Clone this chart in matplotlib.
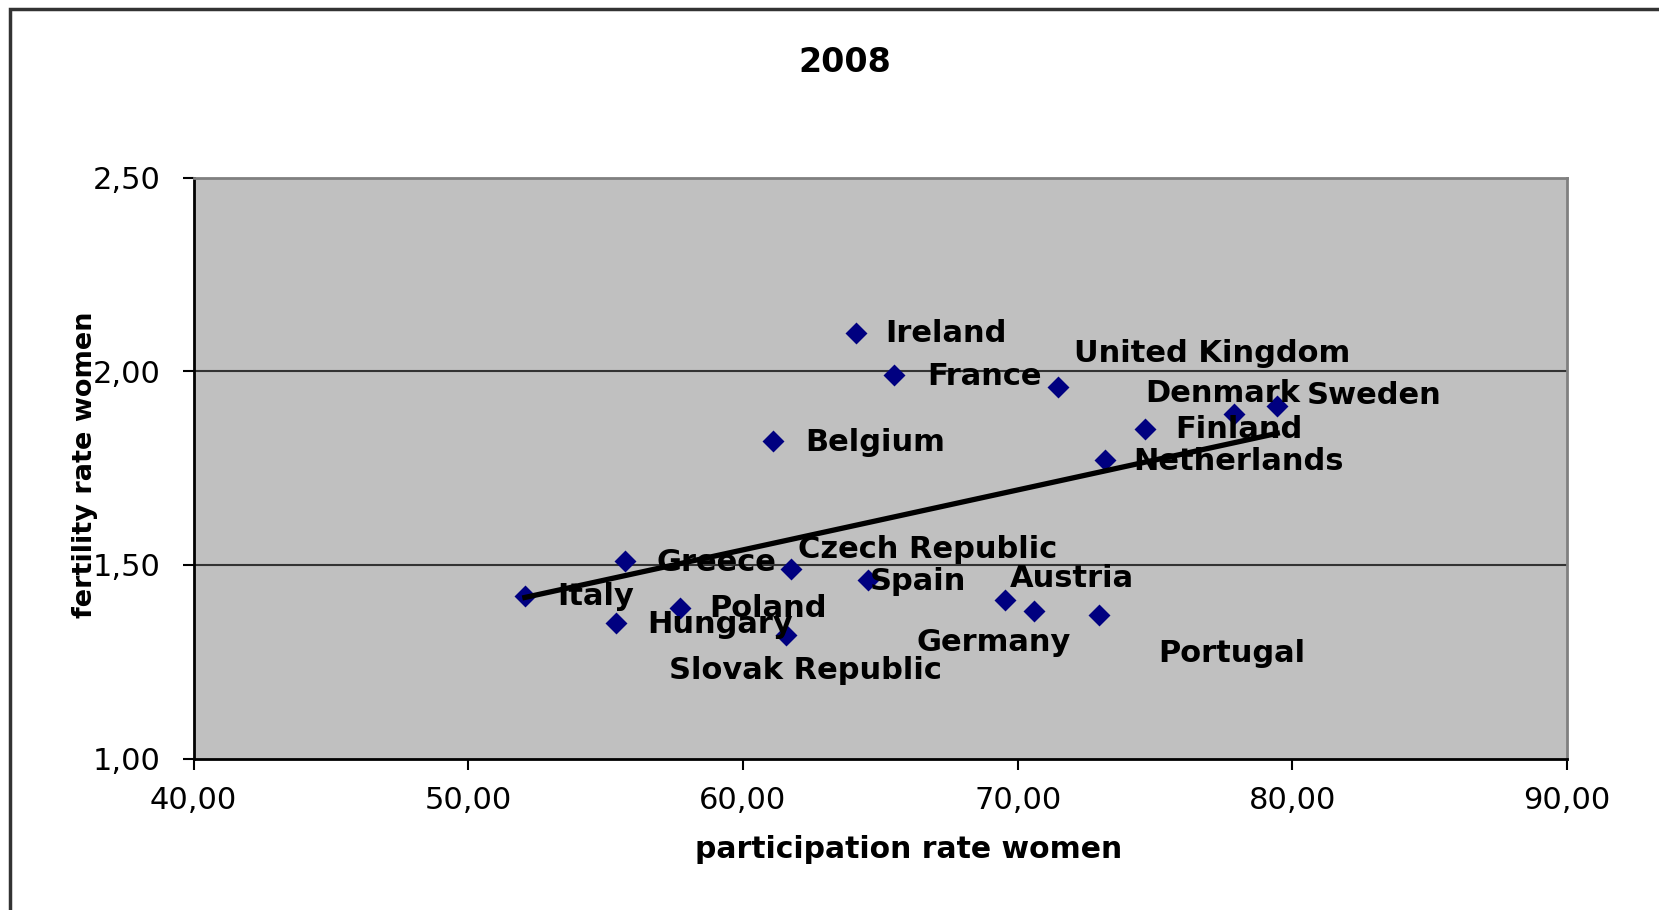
import numpy as np
import matplotlib.pyplot as plt
from matplotlib.patches import Rectangle

# ==========================
# DATA
# ==========================
countries = ["Ireland", "France", "United Kingdom", "Denmark", "Sweden", "Finland",
             "Netherlands", "Belgium", "Greece", "Czech Republic", "Spain", "Austria",
             "Germany", "Portugal", "Italy", "Poland", "Hungary", "Slovak Republic"]
participation = [64.11, 65.50, 71.47, 77.87, 79.45, 74.63, 73.17, 61.11, 55.72,
                 61.73, 64.54, 69.55, 70.59, 72.97, 52.06, 57.72, 55.37, 61.57]
fertility = [2.10, 1.99, 1.96, 1.89, 1.91, 1.85, 1.77, 1.82, 1.51,
             1.49, 1.46, 1.41, 1.38, 1.37, 1.42, 1.39, 1.35, 1.32]

x_ticks = [40, 50, 60, 70, 80, 90]
y_ticks = [1.0, 1.5, 2.0, 2.5]

# label offsets in pixels (dx, dy) from each marker, as placed in the original
label_offsets = {
    "Ireland": (29, -1), "France": (33, -1), "United Kingdom": (16, 33),
    "Denmark": (-89, 20), "Sweden": (29, 11), "Finland": (30, 0),
    "Netherlands": (28, -1), "Belgium": (32, -1), "Greece": (31, -1),
    "Czech Republic": (7, 19), "Spain": (2, -1), "Austria": (5, 21),
    "Germany": (-117, -31), "Portugal": (59, -38), "Italy": (32, -1),
    "Poland": (29, -1), "Hungary": (31, -1), "Slovak Republic": (-117, -36),
}

def comma(v, dec=2):
    return f"{v:.{dec}f}".replace(".", ",")

# ==========================
# PLOT
# ==========================
fig = plt.figure(figsize=(16.59, 9.10), dpi=100)
ax = fig.add_axes([0.1167, 0.1664, 0.8279, 0.6383])
ax.set_facecolor("#C0C0C0")

# outer chart frame (only left/top visible in the original crop)
fig.patches.append(Rectangle((10 / 1659, -0.5), 2.0, 1 - 9 / 910 + 0.5,
                             transform=fig.transFigure, fill=False,
                             edgecolor="#333333", linewidth=2.5, zorder=0))

ax.scatter(participation, fertility, marker="D", s=125, color="#000080",
           zorder=3, linewidths=0)

# linear trendline (as Excel would draw it)
slope, intercept = np.polyfit(participation, fertility, 1)
tx = np.array([min(participation), max(participation)])
ax.plot(tx, slope * tx + intercept, color="black", linewidth=3.8, zorder=4)

for name, px, fy in zip(countries, participation, fertility):
    dx, dy = label_offsets[name]
    ax.annotate(name, (px, fy), xytext=(dx, dy), textcoords="offset pixels",
                ha="left", va="center", fontsize=22, fontweight="bold",
                color="black", zorder=5)

ax.set_xlim(40, 90)
ax.set_ylim(1.0, 2.5)
ax.set_xticks(x_ticks)
ax.set_yticks(y_ticks)
ax.set_xticklabels([comma(v) for v in x_ticks])
ax.set_yticklabels([comma(v) for v in y_ticks])
ax.tick_params(axis="both", direction="out", length=8, width=1.5,
               labelsize=22, colors="black")
ax.tick_params(axis="x", pad=12)
ax.tick_params(axis="y", pad=16)

for g in [1.5, 2.0]:
    ax.axhline(g, color="#333333", linewidth=1.5, zorder=1)

ax.spines["left"].set_color("black")
ax.spines["bottom"].set_color("black")
ax.spines["left"].set_linewidth(2)
ax.spines["bottom"].set_linewidth(2)
ax.spines["top"].set_color("#808080")
ax.spines["right"].set_color("#808080")
ax.spines["top"].set_linewidth(2)
ax.spines["right"].set_linewidth(2)

fig.text(845 / 1659, 1 - 63 / 910, "2008", ha="center", va="center",
         fontsize=24, fontweight="bold")
fig.text(909 / 1659, 1 - 850 / 910, "participation rate women", ha="center",
         va="center", fontsize=21.5, fontweight="bold")
fig.text(85 / 1659, 1 - 465 / 910, "fertility rate women", ha="center",
         va="center", rotation=90, fontsize=19.5, fontweight="bold")

plt.savefig("out.png", dpi=100)
